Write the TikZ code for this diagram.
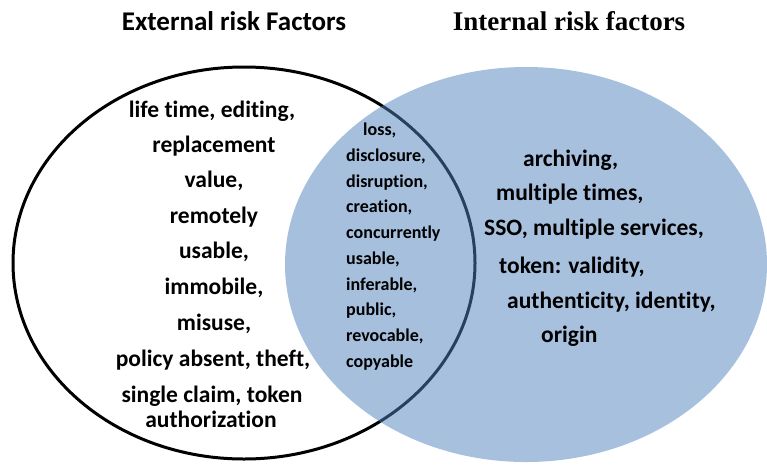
\documentclass[tikz,border=0pt]{standalone}
\usepackage{fontspec}
\setmainfont{Carlito}[Ligatures=NoCommon]
\newfontfamily\timesf{Liberation Serif}
\definecolor{setblue}{HTML}{4F81BD}
\tikzset{
  bigtxt/.style={font=\fontsize{23.5}{27}\selectfont\bfseries, inner sep=0pt, anchor=base},
  midtxt/.style={font=\fontsize{18}{21}\selectfont\bfseries, inner sep=0pt, anchor=base west},
  ttl/.style={inner sep=0pt, anchor=base}
}
\begin{document}
\begin{tikzpicture}[x=1pt,y=-1pt]
\useasboundingbox (0,0) rectangle (767,464);
% sets
\draw[line width=3pt, fill=white] (244,263) ellipse [x radius=231, y radius=196];
\fill[setblue, fill opacity=0.5] (526,264.5) ellipse [x radius=241, y radius=197.5];
% titles
\node[ttl, font=\fontsize{27}{30}\selectfont\bfseries] (tE) at (234,30) {External risk Factors};
\node[ttl, font=\timesf\fontsize{27}{30}\selectfont\bfseries] (tI) at (569,30) {Internal risk factors};
% left set
\node[bigtxt] (l1) at (212,117) {life time, editing,};
\node[bigtxt] (l2) at (214,152) {replacement};
\node[bigtxt] (l3) at (214,187) {value,};
\node[bigtxt] (l4) at (214,223) {remotely};
\node[bigtxt] (l5) at (214,258) {usable,};
\node[bigtxt] (l6) at (214,294) {immobile,};
\node[bigtxt] (l7) at (214,330) {misuse,};
\node[bigtxt] (l8) at (213,366) {policy absent, theft,};
\node[bigtxt] (l9) at (212,402) {single claim, token};
\node[bigtxt] (l10) at (211,427) {authorization};
% intersection
\node[midtxt] (c1) at (363,135) {loss,};
\node[midtxt] (c2) at (346,161) {disclosure,};
\node[midtxt] (c3) at (346,187) {disruption,};
\node[midtxt] (c4) at (346,212.5) {creation,};
\node[midtxt] (c5) at (346,238) {concurrently};
\node[midtxt] (c6) at (346,264) {usable,};
\node[midtxt] (c7) at (346,290) {inferable,};
\node[midtxt] (c8) at (346,315.5) {public,};
\node[midtxt] (c9) at (346,341) {revocable,};
\node[midtxt] (c10) at (346,367) {copyable};
% right set
\node[bigtxt, anchor=base west] (r1) at (523,166) {archiving,};
\node[bigtxt, anchor=base west] (r2) at (496,200) {multiple times,};
\node[bigtxt, anchor=base west] (r3) at (484,235) {SSO, multiple services,};
\node[bigtxt, anchor=base west] (r4) at (499,273) {token: validity,};
\node[bigtxt, anchor=base west] (r5) at (507,308) {authenticity, identity,};
\node[bigtxt, anchor=base west] (r6) at (541,342) {origin};
\end{tikzpicture}
\end{document}
